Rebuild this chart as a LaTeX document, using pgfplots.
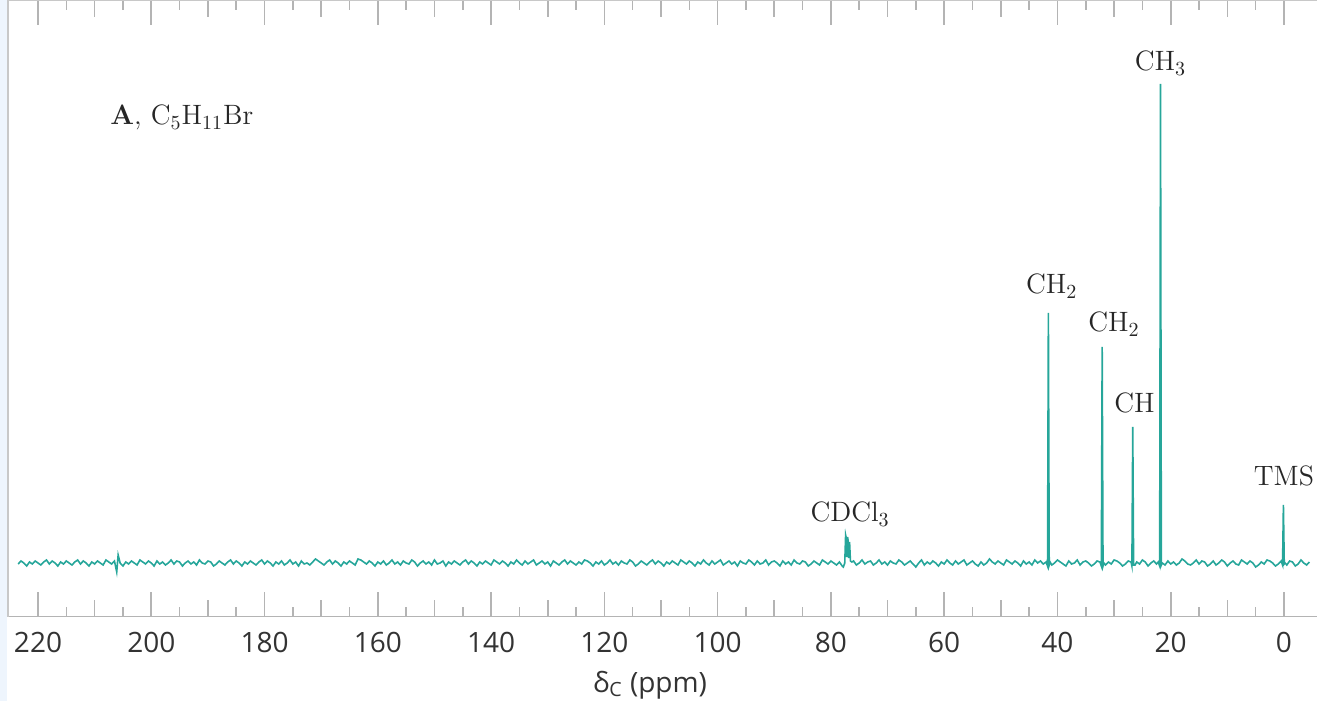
\documentclass[border=0pt]{standalone}
\usepackage{fontspec}
\setsansfont{Open Sans}
\usepackage{pgfplots}
\pgfplotsset{compat=1.18}
\definecolor{spec}{HTML}{26A69A}
\definecolor{tickgray}{HTML}{B4B4B4}
\definecolor{frame}{HTML}{C8C8C8}
\definecolor{lbl}{HTML}{333333}
\definecolor{strip}{HTML}{EEF5FD}
\tikzset{peak/.style={font=\fontsize{14}{16}\selectfont, text=black!85, anchor=base, inner sep=0pt}}

\begin{document}
\begin{tikzpicture}
\begin{axis}[
  name=ax,
  scale only axis, width=654.5pt, height=308.5pt,
  x dir=reverse, xmin=-5.83, xmax=225.3,
  ymin=-54, ymax=563,
  axis line style={draw=none},
  ytick=\empty,
  xtick={0,20,...,220},
  minor xtick={10,30,...,210},
  extra x ticks={5,15,...,215},
  extra x tick labels={},
  extra x tick style={major tick length=5pt},
  major tick length=12.5pt, minor tick length=8.5pt,
  tick align=inside, xtick pos=both,
  every tick/.style={draw=tickgray, line width=0.8pt},
  /pgf/number format/assume math mode=true,
  xticklabel style={font=\sffamily\fontsize{14}{16}\selectfont, text=lbl, yshift=-4.3pt},
  xlabel={\sffamily δ\textsubscript{C} (ppm)},
  xlabel style={font=\fontsize{14}{16}\selectfont, text=lbl, at={(axis description cs:0.4905,0)}, anchor=center, yshift=-34pt},
]
\addplot[spec, line width=0.8pt] coordinates {
(-4.5,1)(-4,-2)(-3.5,0)(-3,3)(-2.5,-1)(-2,-3)(-1.5,1)(-1,2)(-0.5,-2)(-0.2,0)
(-0.05,-1)(0.1,58)(0.25,-2)
(0.5,2)(1,-1)(1.5,-3)(2,0)(2.5,2)(3,3)(3.5,-1)(4,1)(4.5,-2)(5,-4)
(5.5,0)(6,2)(6.5,-1)(7,1)(7.5,3)(8,-2)(8.5,-1)(9,2)(9.5,0)(10,-3)
(10.5,1)(11,3)(11.5,0)(12,-2)(12.5,2)(13,-1)(13.5,-3)(14,1)(14.5,2)(15,-1)
(15.5,3)(16,0)(16.5,-2)(17,-1)(17.5,2)(18,4)(18.5,0)(19,-2)(19.5,1)(20,-1)
(20.5,2)(21,-2)(21.5,0)
(21.65,-2)(21.8,479)(21.95,-3)
(22.2,1)(22.5,-1)(23,2)(23.5,0)(24,-3)(24.5,1)(25,3)
(25.5,-1)(26,1)(26.3,-2)
(26.55,-2)(26.7,136)(26.85,-3)
(27,1)(27.5,2)(28,-1)(28.5,-3)(29,0)(29.5,2)(30,3)
(30.5,-1)(31,1)(31.5,-2)(31.8,0)
(31.95,-3)(32.1,216)(32.25,-3)
(32.5,1)(33,2)(33.5,-1)(34,-3)(34.5,0)(35,2)
(35.5,1)(36,-2)(36.5,3)(37,0)(37.5,-1)(38,2)(38.5,-3)(39,-1)(39.5,1)(40,3)
(40.5,0)(41,-2)(41.3,1)
(41.45,-2)(41.6,250)(41.75,-3)
(42,1)(42.5,-1)(43,2)(43.5,0)(44,3)(44.5,-2)(45,1)
(45.5,-1)(46,2)(46.5,-3)(47,0)(47.5,2)(48,-1)(48.5,1)(49,3)(49.5,-2)(50,0)
(50.5,2)(51,-1)(51.5,1)(52,4)(52.5,0)(53,-2)(53.5,1)(54,-3)(54.5,-1)(55,2)
(55.5,0)(56,-2)(56.5,3)(57,1)(57.5,-1)(58,2)(58.5,-2)(59,0)(59.5,3)(60,-1)
(60.5,1)(61,-3)(61.5,0)(62,2)(62.5,-1)(63,1)(63.5,-2)(64,3)(64.5,0)(65,-4)
(65.5,-1)(66,2)(66.5,0)(67,-2)(67.5,1)(68,3)(68.5,-1)(69,0)(69.5,2)(70,-2)
(70.5,1)(71,-1)(71.5,3)(72,0)(72.5,-2)(73,2)(73.5,1)(74,-1)(74.5,3)(75,0)
(75.5,-2)(76,2)(76.3,1)
(76.55,2)(76.7,21)(76.85,5)(76.95,22)(77.05,26)(77.15,6)(77.25,24)(77.4,28)(77.55,0)
(77.8,-4)(78,-3)(78.5,1)(79,-2)(79.5,0)(80,2)
(80.5,-1)(81,1)(81.5,3)(82,-2)(82.5,0)(83,2)(83.5,-1)(84,-3)(84.5,1)(85,2)
(85.5,-1)(86,0)(86.5,3)(87,-2)(87.5,1)(88,-1)(88.5,2)(89,-3)(89.5,0)(90,2)
(90.5,1)(91,-2)(91.5,3)(92,0)(92.5,-1)(93,2)(93.5,-2)(94,1)(94.5,3)(95,-1)
(95.5,0)(96,2)(96.5,-3)(97,1)(97.5,-1)(98,2)(98.5,0)(99,-2)(99.5,3)(100,1)
(100.5,-1)(101,2)(101.5,-2)(102,0)(102.5,3)(103,-1)(103.5,1)(104,-3)(104.5,0)(105,2)
(105.5,-1)(106,1)(106.5,3)(107,-2)(107.5,0)(108,2)(108.5,-1)(109,1)(109.5,-3)(110,0)
(110.5,2)(111,-1)(111.5,3)(112,1)(112.5,-2)(113,0)(113.5,2)(114,-1)(114.5,-3)(115,1)
(115.5,3)(116,-1)(116.5,0)(117,2)(117.5,-2)(118,1)(118.5,-1)(119,3)(119.5,0)(120,-2)
(120.5,2)(121,-1)(121.5,1)(122,-3)(122.5,0)(123,2)(123.5,3)(124,-1)(124.5,1)(125,-2)
(125.5,0)(126,2)(126.5,-1)(127,3)(127.5,1)(128,-2)(128.5,0)(129,2)(129.5,-3)(130,1)
(130.5,-1)(131,2)(131.5,0)(132,-2)(132.5,3)(133,1)(133.5,-1)(134,2)(134.5,-2)(135,0)
(135.5,3)(136,-1)(136.5,1)(137,-3)(137.5,0)(138,2)(138.5,-1)(139,1)(139.5,3)(140,-2)
(140.5,0)(141,2)(141.5,-1)(142,1)(142.5,-3)(143,0)(143.5,2)(144,-1)(144.5,3)(145,1)
(145.5,-2)(146,0)(146.5,2)(147,-1)(147.5,1)(148,-3)(148.5,2)(149,0)(149.5,-1)(150,3)
(150.5,-2)(151,1)(151.5,-1)(152,2)(152.5,0)(153,-3)(153.5,1)(154,3)(154.5,-1)(155,0)
(155.5,2)(156,-2)(156.5,1)(157,-1)(157.5,3)(158,0)(158.5,-2)(159,2)(159.5,-1)(160,1)
(160.5,-3)(161,0)(161.5,2)(162,-1)(162.5,1)(163,3)(163.5,4)(164,-2)(164.5,0)(165,2)
(165.5,-1)(166,1)(166.5,-3)(167,0)(167.5,2)(168,-1)(168.5,3)(169,1)(169.5,-2)(170,0)
(170.5,2)(171,4)(171.5,1)(172,-2)(172.5,0)(173,-1)(173.5,2)(174,-3)(174.5,1)(175,-1)
(175.5,3)(176,0)(176.5,-2)(177,2)(177.5,-1)(178,1)(178.5,-3)(179,0)(179.5,2)(180,-1)
(180.5,3)(181,1)(181.5,-2)(182,0)(182.5,2)(183,-1)(183.5,1)(184,-3)(184.5,0)(185,2)
(185.5,-1)(186,3)(186.5,1)(187,-2)(187.5,0)(188,2)(188.5,-1)(189,-3)(189.5,1)(190,2)
(190.5,-1)(191,0)(191.5,3)(192,-2)(192.5,1)(193,-1)(193.5,2)(194,0)(194.5,-3)(195,1)
(195.5,2)(196,-1)(196.5,3)(197,0)(197.5,-2)(198,1)(198.5,-1)(199,2)(199.5,-3)(200,0)
(200.5,2)(201,-1)(201.5,1)(202,3)(202.5,-2)(203,0)(203.5,2)(204,-1)(204.5,1)(205,-3)
(205.5,0)(205.85,8)(206.1,-9)
(206.5,2)(207,-1)(207.5,1)(208,3)(208.5,-2)(209,0)(209.5,2)(210,-1)
(210.5,1)(211,-3)(211.5,0)(212,2)(212.5,-1)(213,3)(213.5,1)(214,-2)(214.5,0)(215,2)
(215.5,-1)(216,1)(216.5,-3)(217,0)(217.5,2)(218,-1)(218.5,3)(219,1)(219.5,-2)(220,0)
(220.5,2)(221,-1)(221.5,1)(222,-3)(222.5,0)(223,2)(223.5,-1)
};
\node[peak] at (axis cs:21.8,492) {CH$_3$};
\node[peak] at (axis cs:41.0,269) {CH$_2$};
\node[peak] at (axis cs:30.0,231) {CH$_2$};
\node[peak] at (axis cs:26.4,150) {CH};
\node[peak] at (axis cs:0,77) {TMS};
\node[peak] at (axis cs:76.6,41) {CDCl$_3$};
\node[peak, anchor=base west] at (axis cs:207.3,438) {\textbf{A}, C$_5$H$_{11}$Br};
\draw[tickgray, line width=0.8pt] (rel axis cs:0,0) -- (rel axis cs:1,0);
\draw[frame, line width=0.8pt] (rel axis cs:0,1) -- (rel axis cs:1,1);
\end{axis}
\fill[strip] ([xshift=-4pt,yshift=-42pt]ax.south west) rectangle ([xshift=-0.4pt]ax.north west);
\draw[frame, line width=0.8pt] (ax.south west) -- (ax.north west);
\pgfresetboundingbox
\path ([xshift=-4pt,yshift=-42pt]ax.south west) rectangle (ax.north east);
\end{tikzpicture}
\end{document}
